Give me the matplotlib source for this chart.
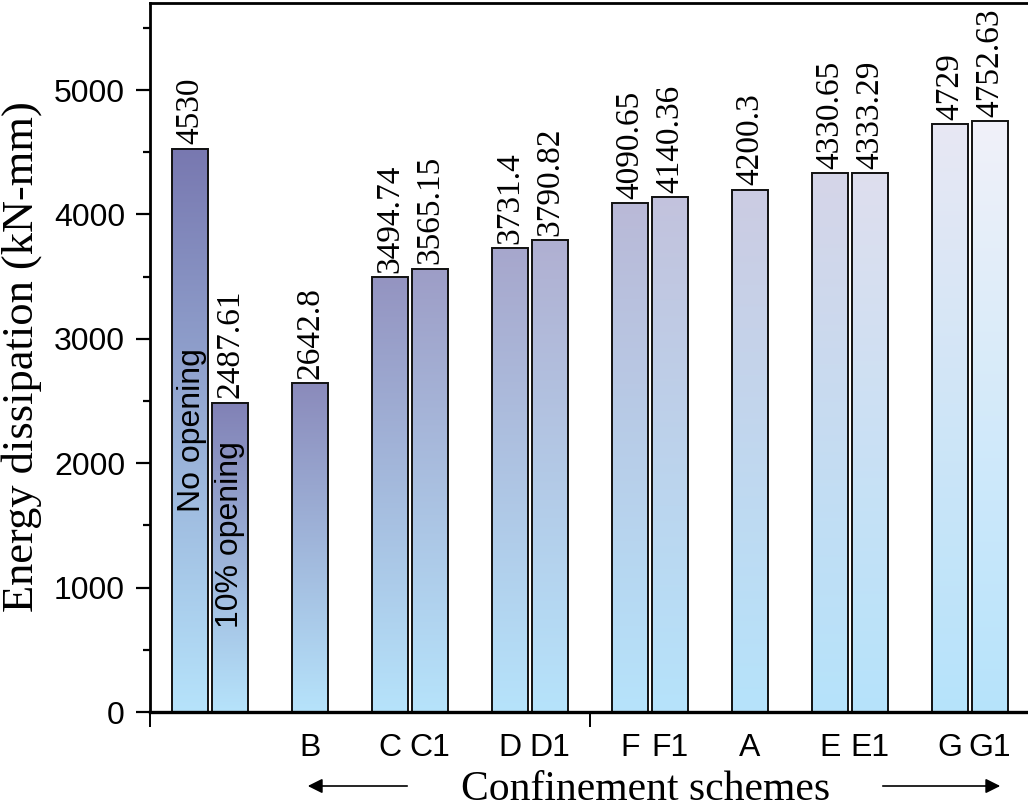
import matplotlib.pyplot as plt
import matplotlib.colors as mcolors
import numpy as np

# data
positions = [0, 1, 3, 5, 6, 8, 9, 11, 12, 14, 16, 17, 19, 20]
energy = [4530, 2487.61, 2642.8, 3494.74, 3565.15, 3731.4, 3790.82,
          4090.65, 4140.36, 4200.3, 4330.65, 4333.29, 4729, 4752.63]
value_labels = ['4530', '2487.61', '2642.8', '3494.74', '3565.15', '3731.4', '3790.82',
                '4090.65', '4140.36', '4200.3', '4330.65', '4333.29', '4729', '4752.63']
tick_pos = [3, 5, 6, 8, 9, 11, 12, 14, 16, 17, 19, 20]
tick_labels = ['B', 'C', 'C1', 'D', 'D1', 'F', 'F1', 'A', 'E', 'E1', 'G', 'G1']

sans = 'Liberation Sans'
serif = 'Liberation Serif'

fig = plt.figure(figsize=(10.28, 8.09), dpi=100)
ax = fig.add_axes([150 / 1028, 1 - 712 / 809, 1 - 150 / 1028, (712 - 3) / 809])

width = 0.9
bottom_col = np.array(mcolors.to_rgb('#b6e3fb'))
dark_top = np.array(mcolors.to_rgb('#7878b0'))
light_top = np.array(mcolors.to_rgb('#f1f1f9'))
mix = np.linspace(0, 1, len(positions))

# gradient bars: each bar goes from its own top colour down to light blue
for i, (x, h) in enumerate(zip(positions, energy)):
    top_col = dark_top * (1 - mix[i]) + light_top * mix[i]
    t = np.linspace(0, 1, 256)[:, None]
    grad = top_col[None, :] * (1 - t) + bottom_col[None, :] * t
    grad = grad[:, None, :]
    ax.imshow(grad, extent=[x - width / 2, x + width / 2, 0, h], aspect='auto',
              origin='upper', zorder=1, interpolation='bilinear')
ax.bar(positions, energy, width, facecolor='none', edgecolor='#111111',
       linewidth=1.4, zorder=2)

for x, h, lab in zip(positions, energy, value_labels):
    ax.annotate(lab, (x, h), xytext=(0, 3), textcoords='offset points',
                rotation=90, ha='center', va='bottom', fontsize=24,
                fontfamily=serif, zorder=3)

ax.text(0.05, 2270, 'No opening', rotation=90, ha='center', va='center',
        fontsize=23, fontfamily=sans, zorder=3)
ax.text(1.0, 1430, '10% opening', rotation=90, ha='center', va='center',
        fontsize=23, fontfamily=sans, zorder=3)

ax.set_xlim(-1, (1028 - 190) / 40)
ax.set_ylim(0, 5700)

ax.set_yticks([0, 1000, 2000, 3000, 4000, 5000])
ax.set_yticks(np.arange(500, 5700, 1000), minor=True)
ax.tick_params(axis='y', which='major', length=10, width=1.6, labelsize=23, pad=8)
ax.tick_params(axis='y', which='minor', length=5, width=1.6)
for lab in ax.get_yticklabels():
    lab.set_fontfamily(sans)

ax.set_xticks(tick_pos)
ax.set_xticklabels(tick_labels, fontfamily=sans, fontsize=23)
ax.set_xticks([-1, 10], minor=True)
ax.tick_params(axis='x', which='major', length=0, pad=15)
ax.tick_params(axis='x', which='minor', length=11, width=1.4)

ax.spines['right'].set_visible(False)
ax.spines['left'].set_linewidth(2)
ax.spines['top'].set_linewidth(2)
ax.spines['bottom'].set_linewidth(2.4)

ax.set_ylabel('Energy dissipation (kN-mm)', fontfamily=serif, fontsize=32)
ax.yaxis.set_label_coords(-108 / 878, (712 - 357) / 709)

fig.text(646 / 1028, 1 - 790 / 809, 'Confinement schemes', fontfamily=serif,
         fontsize=30, ha='center', va='center')
ax.annotate('', xy=(305 / 1028, 1 - 786 / 809), xytext=(410 / 1028, 1 - 786 / 809),
            xycoords='figure fraction', textcoords='figure fraction',
            arrowprops=dict(arrowstyle='-|>', color='black', lw=1.2, mutation_scale=22))
ax.annotate('', xy=(1003 / 1028, 1 - 786 / 809), xytext=(880 / 1028, 1 - 786 / 809),
            xycoords='figure fraction', textcoords='figure fraction',
            arrowprops=dict(arrowstyle='-|>', color='black', lw=1.2, mutation_scale=22))

fig.savefig('out.png', dpi=100)
